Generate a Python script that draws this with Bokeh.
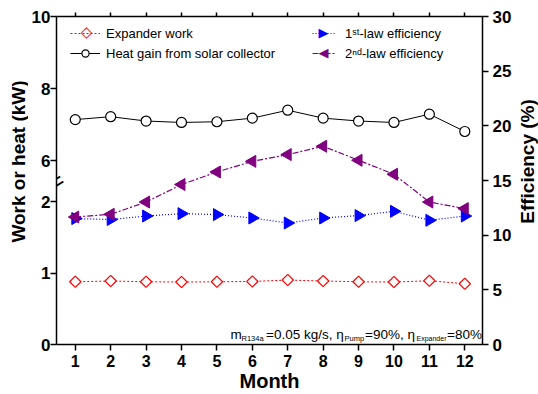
import math
from bokeh.plotting import figure
from bokeh.layouts import row
from bokeh.models import (Range1d, LinearAxis, FixedTicker, CustomJSTickFormatter,
                          Legend, LegendItem, Label, ColumnDataSource)
from bokeh.embed import file_html
from bokeh.resources import INLINE

# ---------------- data ----------------
months = [1, 2, 3, 4, 5, 6, 7, 8, 9, 10, 11, 12]
expander_work = [0.88, 0.89, 0.88, 0.876, 0.88, 0.884, 0.904, 0.89, 0.88, 0.876, 0.894, 0.852]
heat_gain = [7.14, 7.22, 7.10, 7.06, 7.08, 7.18, 7.40, 7.18, 7.10, 7.06, 7.29, 6.81]
eff_1st = [11.52, 11.43, 11.75, 11.97, 11.88, 11.57, 11.11, 11.57, 11.79, 12.18, 11.36, 11.75]
eff_2nd = [11.66, 11.91, 13.03, 14.63, 15.78, 16.75, 17.37, 18.13, 16.85, 15.57, 13.03, 12.43]
left_ticks_low = [0, 1, 2]
left_ticks_high = [6, 8, 10]
right_ticks = [0, 5, 10, 15, 20, 25, 30]

FONT = "Liberation Sans"
BREAK_LOW = 2.3     # top of lower left segment (kW)
BREAK_HIGH = 5.45   # bottom of upper left segment (kW)
LO_END = BREAK_LOW / 0.5
UP_START = 10 - (10 - BREAK_HIGH) / 0.5

# page geometry (canvas px)
W_LEFT, W_SIDE, H = 28, 24, 394
W_MAIN = 538 - W_LEFT - W_SIDE
FL, FB, FT = 56, 344, 16          # frame left / bottom / top on the page
TITLE_CY = 161                    # vertical centre of the two y titles

p = figure(width=W_MAIN, height=H, x_range=Range1d(0.47, 12.5), y_range=Range1d(0, 30),
           y_axis_location="right", output_backend="svg", toolbar_location=None,
           min_border_left=FL - W_LEFT, min_border_right=29, min_border_top=FT,
           min_border_bottom=H - FB)
p.extra_y_ranges = {"low": Range1d(0, LO_END), "up": Range1d(UP_START, 10)}
p.xgrid.visible = False
p.ygrid.visible = False
p.outline_line_color = None
p.background_fill_color = "white"
p.border_fill_color = "white"

src = ColumnDataSource(dict(month=months, work=expander_work, heat=heat_gain, e1=eff_1st, e2=eff_2nd))

RED, BLUE, PURPLE = "red", "blue", "#800080"
l_work = p.line("month", "work", source=src, y_range_name="low", line_color=RED,
                line_dash="2 2", line_width=1)
s_work = p.scatter("month", "work", source=src, y_range_name="low", marker="square",
                   angle=math.pi / 4, size=8, line_color=RED, fill_color="white", line_width=1.2)
l_heat = p.line("month", "heat", source=src, y_range_name="up", line_color="black", line_width=1)
s_heat = p.scatter("month", "heat", source=src, y_range_name="up", marker="circle", size=10,
                   line_color="black", fill_color="white", line_width=1.2)
l_e1 = p.line("month", "e1", source=src, line_color=BLUE, line_dash="1 2", line_width=1.2)
s_e1 = p.scatter("month", "e1", source=src, marker="triangle", angle=-math.pi / 2, size=12,
                 line_color=BLUE, fill_color=BLUE)
l_e2 = p.line("month", "e2", source=src, line_color=PURPLE, line_dash="6 2 2 2", line_width=1.2)
s_e2 = p.scatter("month", "e2", source=src, marker="triangle", angle=math.pi / 2, size=12,
                 line_color=PURPLE, fill_color=PURPLE)


def style_axis(ax, tick_size="16px", label_size="19px"):
    ax.axis_line_width = 1.5
    ax.axis_line_color = "black"
    ax.major_tick_line_width = 1.5
    ax.major_tick_line_color = "black"
    ax.major_tick_in = 0
    ax.major_tick_out = 6
    ax.minor_tick_line_color = None
    ax.major_label_text_font = FONT
    ax.major_label_text_font_style = "bold"
    ax.major_label_text_font_size = tick_size
    ax.major_label_text_color = "black"
    ax.axis_label_text_font = FONT
    ax.axis_label_text_font_style = "bold"
    ax.axis_label_text_font_size = label_size
    ax.axis_label_text_color = "black"


# right axis (default y axis); its title is drawn in the right strip
right = p.right[0]
right.ticker = FixedTicker(ticks=right_ticks)
style_axis(right, "17px", "19px")
right.major_label_standoff = 4


# left broken axis; its title is drawn in the left strip
def up_to_low(v):
    return (v - UP_START) / (10 - UP_START) * LO_END


left_ticks = left_ticks_low + [up_to_low(v) for v in left_ticks_high]
fmt = CustomJSTickFormatter(args=dict(b=BREAK_LOW, s=UP_START, e=LO_END), code="""
  const v = tick <= b + 1e-6 ? tick : s + tick / e * (10 - s);
  return Math.round(v).toString();
""")
left = LinearAxis(y_range_name="low", ticker=FixedTicker(ticks=left_ticks), formatter=fmt)
style_axis(left, "17px", "19px")
left.major_tick_out = 6
left.major_label_standoff = 0
p.add_layout(left, "left")

# bottom axis
bottom = p.below[0]
bottom.ticker = FixedTicker(ticks=months)
style_axis(bottom, "16px", "20px")
bottom.axis_label = "Month"
bottom.major_label_standoff = 4
bottom.axis_label_standoff = 0

# top axis (ticks only)
top = LinearAxis(ticker=FixedTicker(ticks=months),
                 formatter=CustomJSTickFormatter(code="return '';"))
style_axis(top, "1px")
top.major_tick_out = 4
top.major_label_standoff = 0
p.add_layout(top, "above")

# legends (lines drawn by the legend, markers added as text symbols)
leg1 = Legend(items=[LegendItem(label="Expander work", renderers=[l_work]),
                     LegendItem(label="Heat gain from solar collector", renderers=[l_heat, s_heat])],
              location=(14, 282))
leg2 = Legend(items=[LegendItem(label="1ˢᵗ-law efficiency", renderers=[l_e1]),
                     LegendItem(label="2ⁿᵈ-law efficiency", renderers=[l_e2])],
              location=(256, 282))
for lg, gw, st in ((leg1, 30, 6), (leg2, 23, 10)):
    lg.border_line_color = None
    lg.background_fill_alpha = 0
    lg.padding = 0
    lg.margin = 0
    lg.spacing = 2
    lg.glyph_width = gw
    lg.glyph_height = 18
    lg.label_height = 18
    lg.label_standoff = st
    lg.label_text_font = FONT
    lg.label_text_font_size = "13px"
    lg.label_text_color = "black"
    p.add_layout(lg)

legend_marks = [("◇", 86, 31.5, RED, "15px"),
                ("▶", 323, 31.5, BLUE, "13px"),
                ("◀", 323, 51.5, PURPLE, "13px")]
for sym, x, y, col, fs in legend_marks:
    p.add_layout(Label(x=x - FL, y=FB - y, x_units="screen", y_units="screen", text=sym,
                       text_font="DejaVu Sans", text_font_size=fs, text_align="center",
                       text_baseline="middle", text_color=col))

# condition annotation
pieces = [("m", 230, 334, "13.5px"), ("R134a", 241, 338, "7.5px"),
          ("=0.05 kg/s, η", 265.5, 334, "13.5px"), ("Pump", 344, 338, "7.5px"),
          ("=90%, η", 364.5, 334, "13.5px"), ("Expander", 416, 338, "7px"),
          ("=80%", 446.5, 334, "13.5px")]
for txt, px, py, fs in pieces:
    p.add_layout(Label(x=px - FL, y=FB - py, x_units="screen", y_units="screen", text=txt,
                       text_font=FONT, text_font_size=fs, text_align="left",
                       text_baseline="alphabetic", text_color="black"))

# axis break mark
p.add_layout(Label(x=0, y=FB - 181, x_units="screen", y_units="screen", text="=",
                   text_font=FONT, text_font_size="24px", text_align="center",
                   text_baseline="middle", angle=0.56, text_color="black"))


def title_strip(width, text, cx):
    # frame spans the same rows as the main plot frame (FT..FB)
    f = figure(width=width, height=H, x_axis_type=None, y_axis_type=None,
               output_backend="svg", toolbar_location=None, min_border_left=0,
               min_border_right=0, min_border_top=FT, min_border_bottom=H - FB)
    f.outline_line_color = None
    f.xgrid.visible = False
    f.ygrid.visible = False
    f.add_layout(Label(x=cx, y=FB - TITLE_CY, x_units="screen", y_units="screen", text=text,
                       text_font=FONT, text_font_style="bold", text_font_size="19px",
                       text_align="center", text_baseline="middle", angle=math.pi / 2,
                       text_color="black"))
    return f


left_strip = title_strip(W_LEFT, "Work or heat (kW)", 17.5)
right_strip = title_strip(W_SIDE, "Efficiency (%)", 527 - W_LEFT - W_MAIN)

open("out.html", "w").write(file_html(row(left_strip, p, right_strip, spacing=0), INLINE))
